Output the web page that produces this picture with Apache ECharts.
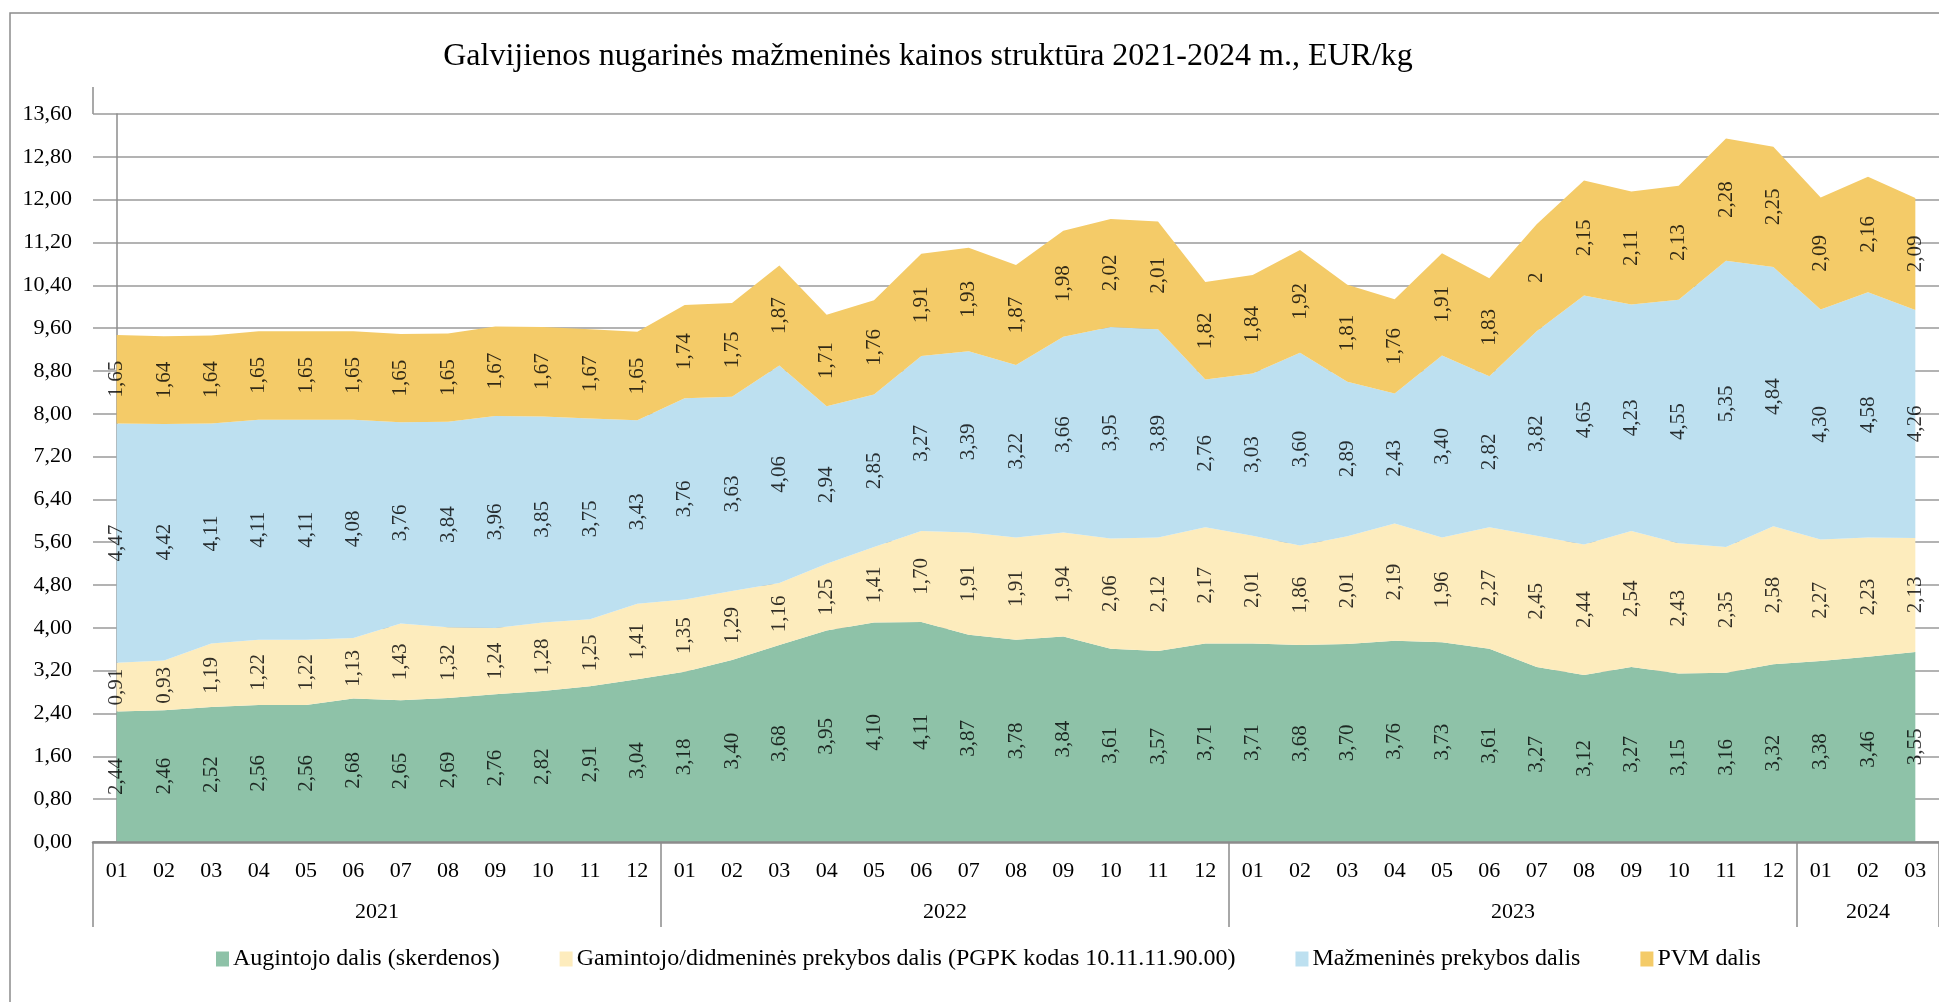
<!DOCTYPE html>
<html>
<head>
    <meta charset="utf-8" />
    <title>Galvijienos nugarinės kainos struktūra</title>
    <script src="https://cdn.jsdelivr.net/npm/echarts@6/dist/echarts.min.js"></script>
    <style>
        html, body { margin: 0; padding: 0; background: #fff; }
        #main { width: 1939px; height: 1002px; }
    </style>
</head>
<body>
    <div id="main"></div>
    <script type="text/javascript">
        // mėnesiai ir metai
        var months = ['01','02','03','04','05','06','07','08','09','10','11','12',
                      '01','02','03','04','05','06','07','08','09','10','11','12',
                      '01','02','03','04','05','06','07','08','09','10','11','12',
                      '01','02','03'];
        var years = ['2021', '2022', '2023', '2024'];
        var monthsInYear = [12, 12, 12, 3];

        var yTicks = { min: 0, max: 13.6, step: 0.8 };

        var seriesNames = ['Augintojo dalis (skerdenos)',
                           'Gamintojo/didmeninės prekybos dalis (PGPK kodas 10.11.11.90.00)',
                           'Mažmeninės prekybos dalis',
                           'PVM dalis'];
        var seriesColors = ['#8ec2a8', '#fdecbd', '#bde0f0', '#f4cb68'];

        var augintojo = [2.44, 2.46, 2.52, 2.56, 2.56, 2.68, 2.65, 2.69, 2.76, 2.82, 2.91, 3.04,
                         3.18, 3.40, 3.68, 3.95, 4.10, 4.11, 3.87, 3.78, 3.84, 3.61, 3.57, 3.71,
                         3.71, 3.68, 3.70, 3.76, 3.73, 3.61, 3.27, 3.12, 3.27, 3.15, 3.16, 3.32,
                         3.38, 3.46, 3.55];
        var gamintojo = [0.91, 0.93, 1.19, 1.22, 1.22, 1.13, 1.43, 1.32, 1.24, 1.28, 1.25, 1.41,
                         1.35, 1.29, 1.16, 1.25, 1.41, 1.70, 1.91, 1.91, 1.94, 2.06, 2.12, 2.17,
                         2.01, 1.86, 2.01, 2.19, 1.96, 2.27, 2.45, 2.44, 2.54, 2.43, 2.35, 2.58,
                         2.27, 2.23, 2.13];
        var mazmenine = [4.47, 4.42, 4.11, 4.11, 4.11, 4.08, 3.76, 3.84, 3.96, 3.85, 3.75, 3.43,
                         3.76, 3.63, 4.06, 2.94, 2.85, 3.27, 3.39, 3.22, 3.66, 3.95, 3.89, 2.76,
                         3.03, 3.60, 2.89, 2.43, 3.40, 2.82, 3.82, 4.65, 4.23, 4.55, 5.35, 4.84,
                         4.30, 4.58, 4.26];
        var pvm = [1.65, 1.64, 1.64, 1.65, 1.65, 1.65, 1.65, 1.65, 1.67, 1.67, 1.67, 1.65,
                   1.74, 1.75, 1.87, 1.71, 1.76, 1.91, 1.93, 1.87, 1.98, 2.02, 2.01, 1.82,
                   1.84, 1.92, 1.81, 1.76, 1.91, 1.83, 2, 2.15, 2.11, 2.13, 2.28, 2.25,
                   2.09, 2.16, 2.09];

        var allData = [augintojo, gamintojo, mazmenine, pvm];
        var FONT = 'Liberation Serif';

        function fmt(v) {
            return Number.isInteger(v) ? String(v) : v.toFixed(2).replace('.', ',');
        }

        // metų ribos ir vidurio taškai (kategorijų indeksais)
        var yearBounds = [-0.5], yearMids = [];
        var acc = 0;
        monthsInYear.forEach(function (n) {
            yearMids.push(acc + (n - 1) / 2);
            acc += n;
            yearBounds.push(acc - 0.5);
        });

        var series = [];
        allData.forEach(function (d, i) {
            series.push({
                name: seriesNames[i],
                type: 'line',
                stack: 'total',
                symbol: 'none',
                lineStyle: { width: 0 },
                itemStyle: { color: seriesColors[i] },
                areaStyle: { color: seriesColors[i], opacity: 1 },
                data: d
            });
        });

        // etiketės juostų viduryje
        var base = augintojo.map(function () { return 0; });
        allData.forEach(function (d, i) {
            var mids = d.map(function (v, k) { return base[k] + v / 2; });
            base = base.map(function (b, k) { return b + d[k]; });
            series.push({
                type: 'scatter',
                symbolSize: 1,
                itemStyle: { color: 'rgba(0,0,0,0)' },
                silent: true,
                z: 5,
                label: {
                    show: true,
                    position: 'inside',
                    rotate: 90,
                    fontFamily: FONT,
                    fontSize: 21,
                    color: '#000',
                    formatter: function (p) { return fmt(d[p.dataIndex]); }
                },
                data: mids
            });
        });

        var myChart = echarts.init(document.getElementById('main'));

        var option = {
            animation: false,
            backgroundColor: '#fff',
            title: {
                text: 'Galvijienos nugarinės mažmeninės kainos struktūra 2021-2024 m., EUR/kg',
                left: 923,
                textAlign: 'center',
                top: 36,
                textStyle: { fontFamily: FONT, fontSize: 32, fontWeight: 'normal', color: '#000' }
            },
            legend: {
                data: seriesNames,
                left: 211,
                top: 942,
                itemWidth: 13,
                itemHeight: 15,
                itemGap: 60,
                icon: 'rect',
                textStyle: { fontFamily: FONT, fontSize: 24, color: '#000', padding: [0, 0, 0, -1] }
            },
            graphic: [
                {
                    type: 'rect',
                    shape: { x: 10, y: 13, width: 2100, height: 1200 },
                    style: { fill: 'none', stroke: '#8c8c8c', lineWidth: 1.5 },
                    silent: true
                },
                {
                    type: 'line',
                    shape: { x1: 93, y1: 87, x2: 93, y2: 114 },
                    style: { stroke: '#8c8c8c', lineWidth: 1.5 },
                    silent: true
                }
            ],
            grid: { left: 93, top: 114, right: -9, bottom: 160 },
            xAxis: [
                {
                    type: 'category',
                    data: months,
                    boundaryGap: true,
                    axisLine: { lineStyle: { color: '#8c8c8c', width: 2.5 } },
                    axisTick: { show: false },
                    axisLabel: { fontFamily: FONT, fontSize: 22, color: '#000', margin: 18, interval: 0 },
                    z: 10
                },
                {
                    type: 'value',
                    position: 'bottom',
                    min: -0.5,
                    max: months.length - 0.5,
                    axisLine: { show: false },
                    splitLine: { show: false },
                    axisTick: {
                        show: true,
                        length: 85,
                        customValues: yearBounds,
                        lineStyle: { color: '#8c8c8c', width: 1.5 }
                    },
                    axisLabel: {
                        fontFamily: FONT, fontSize: 22, color: '#000', margin: 59,
                        customValues: yearMids,
                        formatter: function (v) {
                            var idx = 0;
                            for (var i = 0; i < yearMids.length; i++) {
                                if (Math.abs(yearMids[i] - v) < 0.01) idx = i;
                            }
                            return years[idx];
                        }
                    }
                }
            ],
            yAxis: {
                type: 'value',
                min: yTicks.min,
                max: yTicks.max,
                interval: yTicks.step,
                axisLine: { show: true, lineStyle: { color: '#8c8c8c', width: 1.5 } },
                axisTick: { show: false },
                splitLine: { lineStyle: { color: '#9a9a9a', width: 1.5 } },
                axisLabel: {
                    fontFamily: FONT, fontSize: 22, color: '#000', margin: 21,
                    formatter: function (v) { return v.toFixed(2).replace('.', ','); }
                }
            },
            series: series
        };

        myChart.setOption(option);
    </script>
</body>
</html>
